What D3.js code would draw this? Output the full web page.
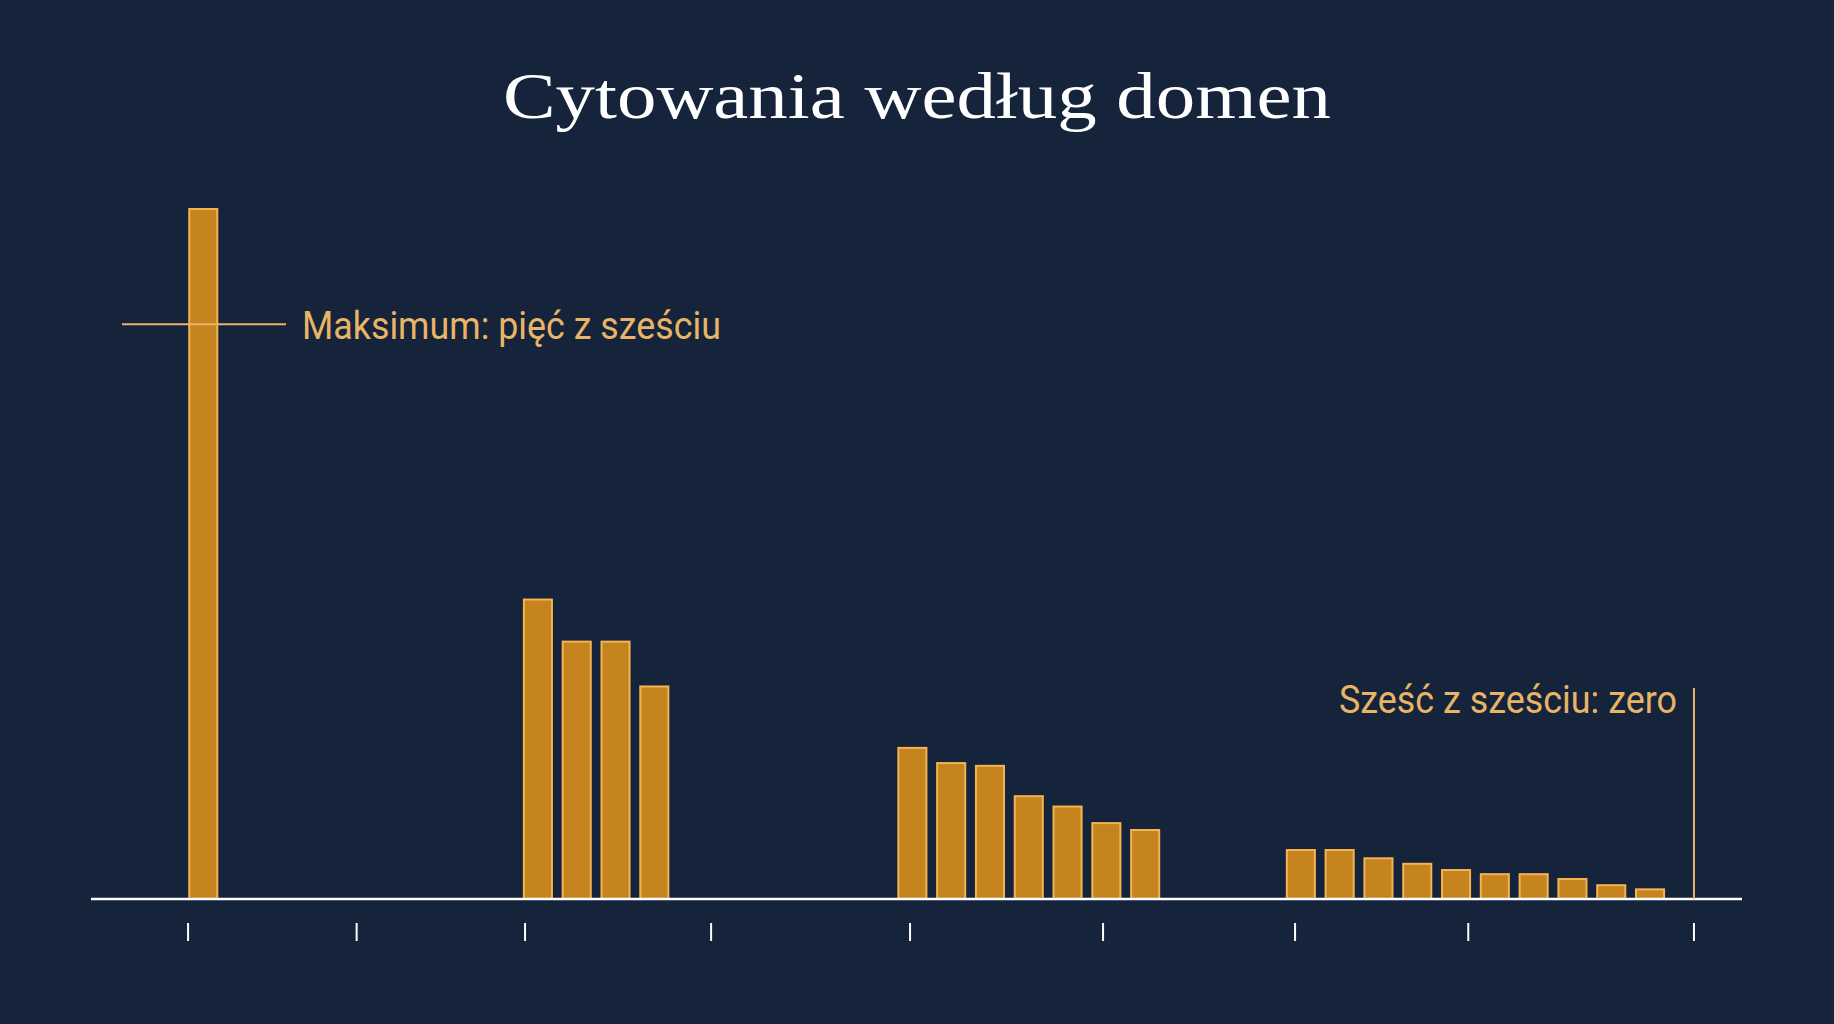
<!DOCTYPE html>
<html><head><meta charset="utf-8">
<script src="https://cdn.jsdelivr.net/npm/d3@7"></script>
<style>html,body{margin:0;padding:0;background:#15243b;}</style>
</head><body>
<svg id="c" width="1834" height="1024"></svg>
<script>
// Data (values relative to maximum = 100; positions in axis units 0..100)
const groupStarts = [6.80, 27.07, 49.75, 73.28];
const groupValues = [
  [100],
  [43.4, 37.3, 37.3, 30.8],
  [21.9, 19.7, 19.3, 14.9, 13.4, 11.0, 10.0],
  [7.1, 7.1, 5.9, 5.1, 4.2, 3.6, 3.6, 2.9, 2.0, 1.4]
];
const tickPositions = [5.88, 16.09, 26.29, 37.56, 49.61, 61.30, 72.93, 83.42, 97.09];
const maxMarker = 83.3;      // five of six
const zeroMarkerPos = 97.09; // six of six: zero
const title = "Cytowania według domen";
const label1 = "Maksimum: pięć z sześciu";
const label2 = "Sześć z sześciu: zero";
const pitch = 2.35, barW = 1.70;

const svg = d3.select("#c");
const x = d3.scaleLinear().domain([0,100]).range([91,1742]);
const y = d3.scaleLinear().domain([0,100]).range([899,209]);

const bars = [];
groupValues.forEach((g,gi)=>g.forEach((v,i)=>bars.push({c:groupStarts[gi]+i*pitch, v})));

svg.append("text").attr("x",917).attr("y",118).attr("text-anchor","middle")
  .attr("font-family","'Liberation Serif', 'DejaVu Serif', serif").attr("font-size",66)
  .attr("fill","#ffffff").attr("textLength",828).attr("lengthAdjust","spacingAndGlyphs").text(title);

svg.append("g").selectAll("rect").data(bars).join("rect")
  .attr("x",d=>x(d.c-barW/2)).attr("width",x(barW)-x(0))
  .attr("y",d=>y(d.v)).attr("height",d=>y(0)-y(d.v))
  .attr("fill","#c6841f").attr("stroke","#f2b454").attr("stroke-width",2);

// axis
const axis = d3.axisBottom(x).tickValues(tickPositions).tickFormat("").tickSize(0);
const ag = svg.append("g").attr("transform","translate(0,899)").call(axis);
ag.select(".domain").remove();
svg.append("line").attr("x1",91).attr("x2",1742).attr("y1",899).attr("y2",899)
  .attr("stroke","#ffffff").attr("stroke-width",2.5);
svg.append("g").selectAll("line").data(tickPositions).join("line")
  .attr("x1",d=>x(d)).attr("x2",d=>x(d)).attr("y1",923).attr("y2",941)
  .attr("stroke","#ffffff").attr("stroke-width",2);

// annotations
const ac = "#e9b466";
svg.append("line").attr("x1",122).attr("x2",286).attr("y1",y(maxMarker)).attr("y2",y(maxMarker))
  .attr("stroke",ac).attr("stroke-width",2);
svg.append("text").attr("x",302).attr("y",y(maxMarker)+15).attr("font-family","Roboto, sans-serif")
  .attr("font-size",38).attr("fill",ac).attr("textLength",419).attr("lengthAdjust","spacingAndGlyphs").text(label1);
svg.append("line").attr("x1",x(zeroMarkerPos)).attr("x2",x(zeroMarkerPos)).attr("y1",688).attr("y2",899)
  .attr("stroke",ac).attr("stroke-width",2);
svg.append("text").attr("x",1677).attr("y",713).attr("text-anchor","end").attr("font-family","Roboto, sans-serif")
  .attr("font-size",38).attr("fill",ac).attr("textLength",338).attr("lengthAdjust","spacingAndGlyphs").text(label2);
</script>
</body></html>
